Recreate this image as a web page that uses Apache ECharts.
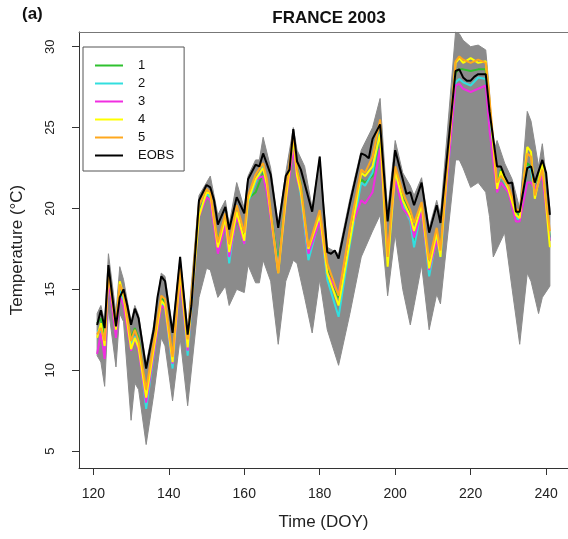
<!DOCTYPE html>
<html>
<head>
<meta charset="utf-8">
<script src="https://cdn.jsdelivr.net/npm/echarts@6/dist/echarts.min.js"></script>
<style>
html,body{margin:0;padding:0;background:#fff;}
#chart_1{width:568px;height:539px;}
</style>
</head>
<body>
<div id="chart_1"></div>
<script>
// EOBS observed series (day of year, temperature)
var eobsDays = [121,122,123,124,126,127,128,129,130,131,132,134,136,137,138,139,141,143,145,146,148,150,151,152,153,155,156,158,160,161,163,164,165,167,169,171,172,173,174,175,178,180,181,182,183,184,185,188,191,192,193,194,196,198,200,202,203,204,205,207,209,211,212,216,217,218,219,220,221,222,224,225,227,228,229,230,231,232,233,235,236,237,239,240,241];
var eobsVals = [12.8,13.7,12.6,16.5,12.7,14.5,15.0,14.0,12.8,13.8,13.2,10.1,12.5,14.5,15.8,15.5,12.3,17.0,12.2,14.0,20.5,21.45,21.3,20.5,19.0,20.1,18.7,20.7,19.7,21.8,22.7,22.6,23.4,22.1,18.8,22.0,22.4,24.9,22.9,22.4,19.8,23.2,20.1,17.3,17.2,17.4,16.9,20.3,23.4,23.3,23.1,24.3,25.2,19.2,23.6,21.8,20.9,21.0,20.2,21.6,18.5,20.2,19.1,28.5,28.6,28.1,27.9,27.9,28.15,28.3,28.3,26.0,22.6,22.6,22.0,21.55,21.6,19.8,19.8,22.5,22.6,21.6,23.0,22.2,19.6];

// runs 1..5
var runDays = [121,122,123,124,126,127,128,130,131,132,134,138,139,141,143,145,148,150,151,153,155,156,158,160,161,163,165,166,169,171,173,174,175,177,180,182,185,188,191,192,194,196,198,200,202,204,205,207,209,211,212,216,217,218,220,222,224,225,227,228,230,232,233,235,236,237,239,241];
var run1 = [12.9,13.2,12.0,15.8,12.5,14.8,14.3,12.0,12.6,12.0,8.5,14.5,14.2,10.7,15.6,11.6,19.8,20.8,20.6,18.0,19.5,17.5,19.3,18.2,20.6,21.0,22.2,21.4,16.6,20.8,24.0,22.4,21.5,17.4,19.6,16.2,14.5,18.5,21.8,21.6,22.0,24.6,17.2,22.3,20.6,19.8,18.0,20.0,16.6,18.4,17.4,28.4,28.6,28.6,28.5,28.6,28.6,25.0,21.5,22.4,21.3,19.8,19.6,22.8,22.6,21.0,22.6,18.2];
var run2 = [12.4,12.5,11.4,15.6,12.3,14.9,14.2,11.6,12.1,11.5,7.6,14.2,13.9,10.1,15.8,10.9,19.6,20.9,20.7,17.4,19.2,16.6,19.8,17.8,20.4,21.6,22.6,21.4,16.3,20.6,24.2,22.0,20.8,16.8,19.4,15.6,13.3,17.8,21.6,21.4,22.2,24.8,16.8,22.0,20.2,19.2,17.6,20.0,15.8,18.2,17.0,27.8,28.0,27.8,27.6,28.1,28.0,25.5,21.4,22.0,21.2,19.4,19.3,22.6,22.4,20.8,22.4,18.0];
var run3 = [11.0,12.3,10.7,15.6,12.0,14.6,14.0,11.2,12.0,11.2,8.0,14.0,13.8,10.4,15.5,11.2,19.5,20.7,20.5,17.2,19.0,17.0,19.5,17.8,20.6,21.8,22.0,21.0,16.2,20.4,23.6,21.8,21.0,17.2,19.2,16.0,14.7,18.6,20.5,20.3,21.0,23.7,17.2,21.8,20.0,19.4,18.2,19.8,16.2,18.0,17.2,27.6,27.7,27.4,27.2,27.4,27.6,24.8,21.0,21.6,21.0,19.2,19.2,21.6,21.6,21.2,22.0,18.0];
var run4 = [12.0,12.9,11.5,16.2,12.5,15.5,14.6,11.3,12.0,11.4,8.3,14.3,14.0,10.5,16.0,11.4,19.5,21.0,20.9,17.6,19.4,17.3,19.8,18.0,20.5,21.8,22.5,21.5,16.0,20.5,24.3,22.0,21.0,17.5,19.6,16.0,14.0,18.0,22.2,22.0,22.6,24.6,16.4,22.3,20.5,19.5,18.6,20.2,16.3,18.5,17.0,29.0,29.3,29.0,29.3,29.0,29.1,26.5,21.2,22.3,21.2,19.6,19.4,23.8,23.5,20.6,22.8,17.6];
var run5 = [12.2,12.6,11.8,16.0,12.8,15.3,14.8,11.8,12.5,11.8,8.8,14.6,14.4,10.8,16.3,11.9,20.2,21.2,21.0,17.9,19.7,17.8,20.2,18.5,20.8,22.1,22.8,21.8,16.0,21.0,24.6,22.4,21.4,17.6,19.9,16.6,14.6,18.8,22.4,22.2,23.2,25.5,17.0,22.6,21.0,19.9,19.1,20.4,16.8,18.8,17.4,29.1,29.4,29.2,29.0,29.2,29.0,26.8,21.6,22.0,21.4,20.0,19.8,23.4,23.2,20.8,22.4,18.6];

// grey ensemble, lower and upper edge
var envDays = [121,122,123,124,126,127,128,130,131,132,134,136,138,139,141,143,145,148,150,151,153,155,156,158,160,161,163,164,165,167,169,171,173,174,176,178,180,182,185,188,191,194,196,198,200,202,204,205,207,209,211,212,216,217,218,220,222,224,225,226,227,229,231,233,235,236,238,239,241];
var envLow = [10.9,10.5,9.0,13.8,10.2,13.5,13.0,6.9,9.2,8.8,5.4,8.5,12.0,11.5,8.1,12.0,7.8,14.5,16.3,16.2,14.5,15.2,14.0,15.0,14.8,16.5,15.4,15.4,16.8,15.5,11.6,15.5,16.8,16.6,14.5,12.3,15.6,12.5,10.3,13.5,17.0,18.6,19.6,14.6,18.4,15.0,12.8,14.0,16.5,12.5,14.7,14.1,23.0,23.0,22.5,21.3,21.6,21.0,19.5,17.0,17.5,18.5,15.0,11.6,16.0,15.5,13.5,14.5,15.2];
var envHigh = [13.5,14.0,13.0,17.2,13.5,16.4,15.6,13.0,14.0,13.4,10.4,12.8,16.0,15.8,12.6,17.0,12.6,20.8,21.6,22.0,19.6,20.5,19.0,21.6,20.0,22.0,23.0,23.0,24.4,22.5,19.0,22.2,25.0,23.6,22.6,20.0,23.2,17.6,17.2,20.6,23.6,25.0,26.8,19.8,24.2,22.2,21.4,20.8,21.9,18.8,20.5,19.6,30.9,30.8,30.4,30.0,30.1,29.8,27.2,23.4,24.2,22.8,21.8,20.0,26.0,25.4,22.6,24.0,20.0];

var xTicks = [120,140,160,180,200,220,240];
var yTicks = [5,10,15,20,25,30];

function pairs(days, vals){
	var out = [];
	for(var i=0;i<days.length;i++){
		out.push([days[i], vals[i]]);
	}
	return out;
}

var font = 'Liberation Sans, Arial, sans-serif';
var greyCol = '#8b8b8b';

function runLine(name, vals, col){
	return {
		name:name,
		type:'line',
		symbol:'none',
		data:pairs(runDays, vals),
		lineStyle:{color:col, width:2},
		itemStyle:{color:col},
		z:3
	};
}

// grey band: upper edge forward, lower edge back, one polygon
function renderBand(params, api){
	if(params.dataIndex !== 0) return;
	var pts = [];
	for(var i=0;i<envDays.length;i++){
		pts.push(api.coord([envDays[i], envHigh[i]]));
	}
	for(var j=envDays.length-1;j>=0;j--){
		pts.push(api.coord([envDays[j], envLow[j]]));
	}
	return {
		type:'polygon',
		shape:{points:pts},
		style:{fill:greyCol, stroke:greyCol, lineWidth:1}
	};
}

var myChart1 = echarts.init(document.getElementById('chart_1'));
var option1 = {
	animation:false,
	backgroundColor:'#fff',
	title:[
		{text:'(a)', left:17, top:1, textStyle:{fontFamily:font, fontWeight:'bold', fontSize:17, color:'#111'}},
		{text:'FRANCE 2003', left:324, textAlign:'center', top:5, textStyle:{fontFamily:font, fontWeight:'bold', fontSize:17, color:'#111'}}
	],
	legend:{
		orient:'vertical',
		left:83,
		top:47,
		padding:[11,10,8,12],
		width:102,
		borderColor:'#555',
		borderWidth:1,
		icon:'rect',
		itemWidth:28,
		itemHeight:2,
		itemGap:3,
		textStyle:{fontFamily:font, fontSize:13, color:'#111', padding:[0,0,0,10], lineHeight:15},
		data:['1','2','3','4','5','EOBS']
	},
	grid:{left:79, right:-2, top:32, bottom:71},
	xAxis:[{
		type:'value',
		min:116.2,
		max:245.8,
		name:'Time (DOY)',
		nameLocation:'middle',
		nameGap:46,
		nameTextStyle:{fontFamily:font, fontSize:17, color:'#222'},
		axisLine:{show:true, onZero:false, lineStyle:{color:'#333', width:1}},
		axisTick:{show:true, length:7, customValues:xTicks, lineStyle:{color:'#333'}},
		axisLabel:{customValues:xTicks, margin:19, fontFamily:font, fontSize:14, color:'#222'},
		splitLine:{show:false},
		z:10
	},{
		type:'value',
		position:'top',
		min:116.2,
		max:245.8,
		axisLine:{show:true, onZero:false, lineStyle:{color:'#777', width:1}},
		axisTick:{show:false},
		axisLabel:{show:false},
		splitLine:{show:false},
		z:10
	}],
	yAxis:{
		type:'value',
		min:3.95,
		max:30.91,
		name:'Temperature (°C)',
		nameLocation:'middle',
		nameGap:53,
		nameTextStyle:{fontFamily:font, fontSize:17, color:'#222'},
		axisLine:{show:true, onZero:false, lineStyle:{color:'#333', width:1}},
		axisTick:{show:true, length:7, customValues:yTicks, lineStyle:{color:'#333'}},
		axisLabel:{customValues:yTicks, rotate:90, margin:22, fontFamily:font, fontSize:13, color:'#222'},
		splitLine:{show:false},
		z:10
	},
	series:[
		{
			name:'ensemble',
			type:'custom',
			renderItem:renderBand,
			data:[[envDays[0], envLow[0]]],
			encode:{x:0, y:1},
			silent:true,
			z:1
		},
		runLine('1', run1, '#2fc12f'),
		runLine('2', run2, '#33dede'),
		runLine('3', run3, '#f02ee0'),
		runLine('4', run4, '#ffff00'),
		runLine('5', run5, '#ffa81e'),
		{
			name:'EOBS',
			type:'line',
			symbol:'none',
			data:pairs(eobsDays, eobsVals),
			lineStyle:{color:'#000', width:2},
			itemStyle:{color:'#000'},
			z:4
		}
	]
};
myChart1.setOption(option1);
</script>
</body>
</html>
